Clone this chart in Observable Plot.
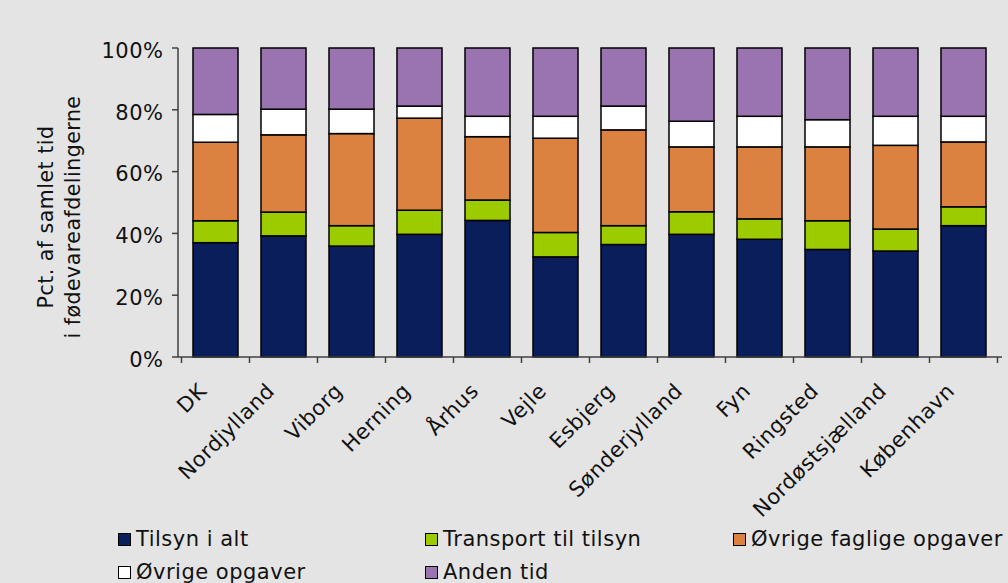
<!DOCTYPE html>
<html>
<head>
<meta charset="utf-8">
<script src="https://cdn.jsdelivr.net/npm/d3@7"></script>
<script src="https://cdn.jsdelivr.net/npm/@observablehq/plot@0.6"></script>
<style>
  html, body { margin: 0; padding: 0; background: #e4e4e4; }
  #chart { position: relative; width: 1008px; height: 583px; background: #e4e4e4; overflow: hidden;
           font-family: "DejaVu Sans", Verdana, sans-serif; color: #000; }
  #chart svg { display: block; }
  #chart svg text { letter-spacing: 0.5px; }
  #chart svg g[aria-label="y-axis title"] text { letter-spacing: 0; }
  .legend { position: absolute; left: 0; top: 520px; width: 1008px; height: 63px; }
  .item { position: absolute; display: flex; align-items: center; font-size: 21px; line-height: 21px;
          letter-spacing: 0.5px; white-space: nowrap; }
  .swatch { width: 11px; height: 11px; border: 1.5px solid #000; margin-right: 5px; flex: none; }
</style>
</head>
<body>
<div id="chart"></div>
<script>
// Regions (fødevareregioner) and the share of total time spent on each activity, in percent
const categories = ["DK", "Nordjylland", "Viborg", "Herning", "Århus", "Vejle", "Esbjerg",
                    "Sønderjylland", "Fyn", "Ringsted", "Nordøstsjælland", "København"];
const series = ["Tilsyn i alt", "Transport til tilsyn", "Øvrige faglige opgaver", "Øvrige opgaver", "Anden tid"];

const tilsyn    = [37.0, 39.2, 35.9, 39.7, 44.2, 32.4, 36.4, 39.7, 38.1, 34.8, 34.3, 42.5];
const transport = [ 7.1,  7.7,  6.6,  7.8,  6.6,  7.9,  6.1,  7.3,  6.6,  9.3,  7.1,  6.1];
const faglige   = [25.4, 25.0, 29.8, 29.8, 20.5, 30.5, 31.0, 21.0, 23.3, 23.9, 27.1, 21.0];
const ovrige    = [ 9.0,  8.3,  7.9,  3.9,  6.6,  7.1,  7.7,  8.3,  9.9,  8.8,  9.4,  8.3];
const anden     = [21.5, 19.8, 19.8, 18.8, 22.1, 22.1, 18.8, 23.7, 22.1, 23.2, 22.1, 22.1];

const yTicks = [0, 20, 40, 60, 80, 100];
const yTitle = "Pct. af samlet tid\ni fødevareafdelingerne";
const colors = ["#0b1e5c", "#9ccc00", "#dc8240", "#ffffff", "#9a74b0"];

// Long table: one row per region and activity, bottom segment first
const seriesValues = [tilsyn, transport, faglige, ovrige, anden];
const rows = series.flatMap((s, k) =>
  categories.map((c, i) => ({region: c, activity: s, pct: seriesValues[k][i]})));

// Axis lines, with category ticks placed between the bars
function axisLines(index, {x, y}, values, {width, marginLeft, marginRight}) {
  const g = d3.create("svg:g").attr("stroke", "#404040").attr("stroke-width", 1.5).attr("fill", "none");
  const left = marginLeft, right = width - marginRight, base = y(0);
  g.append("line").attr("x1", left).attr("x2", left).attr("y1", y(100)).attr("y2", base);
  for (const t of yTicks) {
    g.append("line").attr("x1", left - 6).attr("x2", left).attr("y1", y(t)).attr("y2", y(t));
  }
  g.append("line").attr("x1", left).attr("x2", right).attr("y1", base).attr("y2", base);
  const step = x.step(), bw = x.bandwidth();
  const bounds = categories.map(c => x(c) - (step - bw) / 2);
  bounds.push(x(categories[categories.length - 1]) + bw + (step - bw) / 2);
  for (const b of bounds) {
    g.append("line").attr("x1", b).attr("x2", b).attr("y1", base).attr("y2", base + 6);
  }
  return g.node();
}

const plot = Plot.plot({
  width: 1008,
  height: 520,
  marginLeft: 178,
  marginRight: 6,
  marginTop: 48,
  marginBottom: 163,
  style: {background: "transparent", fontFamily: "\"DejaVu Sans\", Verdana, sans-serif", fontSize: "21px", color: "#000", overflow: "visible"},
  x: {domain: categories, paddingInner: 1 / 3, paddingOuter: 1 / 6, axis: null},
  y: {domain: [0, 100], axis: null},
  color: {domain: series, range: colors},
  marks: [
    Plot.barY(rows, {x: "region", y: "pct", fill: "activity", stroke: "#000", strokeWidth: 1.5}),
    axisLines,
    Plot.text(yTicks, {y: d => d, text: d => d + "%", frameAnchor: "left", textAnchor: "end",
                       dx: -15, dy: 2.5, fontSize: 21, fill: "#111"}),
    Plot.text(categories, {x: d => d, text: d => d, frameAnchor: "bottom", rotate: -45,
                           textAnchor: "end", lineAnchor: "middle", dx: -13, dy: 30, fontSize: 21, fill: "#111"}),
    Plot.text([yTitle], {text: d => d, frameAnchor: "left", rotate: -90, textAnchor: "middle",
                         lineAnchor: "middle", lineHeight: 1.35, dx: -121, dy: 14, fontSize: 20.5,
                         fill: "#111", ariaLabel: "y-axis title"})
  ]
});

const chart = document.getElementById("chart");
chart.appendChild(plot);

// Legend below the chart, two rows in three columns
const legend = document.createElement("div");
legend.className = "legend";
const columnLeft = [118, 425, 733];
const rowTop = [8.5, 42];
series.forEach((s, k) => {
  const item = document.createElement("div");
  item.className = "item";
  item.style.left = columnLeft[k % 3] + "px";
  item.style.top = rowTop[Math.floor(k / 3)] + "px";
  const sw = document.createElement("span");
  sw.className = "swatch";
  sw.style.background = colors[k];
  const label = document.createElement("span");
  label.textContent = s;
  label.style.color = "#111";
  item.append(sw, label);
  legend.appendChild(item);
});
chart.appendChild(legend);
</script>
</body>
</html>
